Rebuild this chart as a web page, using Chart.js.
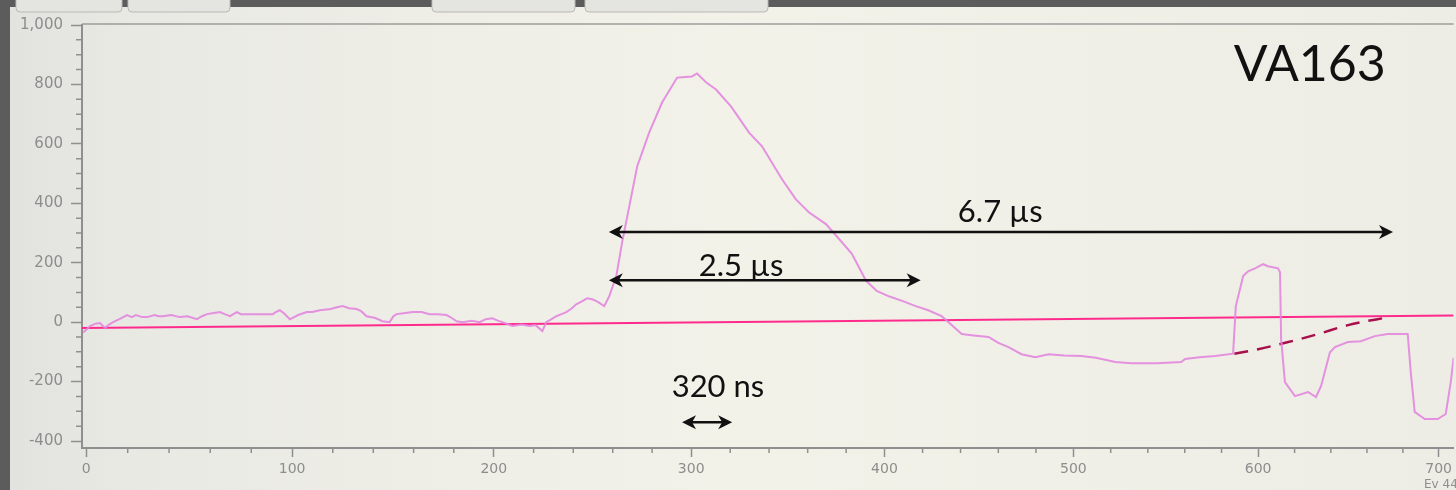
<!DOCTYPE html>
<html>
<head>
<meta charset="utf-8">
<title>VA163 pulse</title>
<script src="https://cdn.jsdelivr.net/npm/chart.js@4.4.1/dist/chart.umd.min.js"></script>
<style>
  html, body { margin: 0; padding: 0; background: #5c5c5c; overflow: hidden; }
  #wrap { width: 1456px; height: 490px; }
</style>
</head>
<body>
<div id="wrap"><canvas id="scope"></canvas></div>
<script>
// axis ticks
const xTicks = [0, 100, 200, 300, 400, 500, 600, 700];
const yTicks = [-400, -200, 0, 200, 400, 600, 800, 1000];

// sampled channel trace (sample index, ADC counts)
const traceX = [
  -1.4, 1.9, 4.5, 6.7, 9.1, 11, 13, 16, 19.7, 22,
  24, 27, 29.4, 33, 35, 37.1, 41, 45.3, 49, 53.6,
  56, 58.4, 61, 64.7, 67, 69.6, 73, 75, 77.9, 85,
  90.6, 92, 94, 96, 98.9, 101, 103, 107.2, 110, 113.6,
  119, 122, 124.9, 128, 131.8, 134, 136.7, 141, 144.6, 148.1,
  150, 151.6, 155, 159.5, 164, 167.9, 172, 176.4, 179, 181.4,
  184.4, 189, 192.9, 196, 199.3, 202, 204.3, 209.3, 214, 217.9,
  221, 224.4, 226.4, 229, 231.5, 234, 236.5, 239, 241.5, 244.6,
  247, 249.6, 252, 255.7, 258.2, 261.8, 264.8, 268.4, 272.4, 278.5,
  285.1, 292.8, 297, 300.4, 303, 307.6, 312.7, 320.4, 329.7, 336.4,
  346.7, 353.9, 360.6, 369.5, 377.8, 383, 390.3, 396, 402.3, 410,
  416.4, 423, 430, 433.7, 440.6, 447, 454.8, 460, 465.4, 472.3,
  479.7, 486.7, 495, 504.3, 512, 522.5, 531.1, 545, 558.1, 560.2,
  568, 576.5, 586.3, 587.8, 591.8, 594.5, 598.3, 602.7, 605.4, 610.9,
  612, 612.6, 614.7, 620.2, 627.4, 631.8, 634.6, 639.5, 642.3, 649.4,
  656.6, 664.4, 671.6, 682.7, 684.4, 686.6, 692.2, 699.5, 704, 706.8,
  708.4
];
const traceY = [
  -35, -13, -5, -3, -20, -8, 0, 10, 24, 17,
  24, 17, 17, 24, 20, 20, 24, 17, 20, 10,
  20, 27, 30, 34, 27, 20, 34, 27, 27, 27,
  27, 34, 40, 30, 10, 17, 24, 34, 34, 40,
  44, 50, 54, 47, 44, 37, 20, 14, 3, 0,
  20, 27, 30, 34, 34, 27, 27, 24, 14, 3,
  0, 5, 0, 10, 13, 5, 0, -13, -8, -13,
  -10, -30, 0, 10, 20, 27, 34, 45, 60, 71,
  80, 77, 70, 54, 87, 155, 270, 390, 524, 638,
  739, 823, 825, 827, 837, 807, 783, 726, 638, 592,
  481, 413, 370, 330, 269, 230, 140, 105, 87, 70,
  54, 40, 20, 0, -40, -45, -50, -70, -84, -108,
  -118, -108, -112, -114, -120, -134, -138, -138, -134, -124,
  -118, -114, -106, 54, 155, 171, 181, 195, 188, 181,
  168, -57, -202, -249, -235, -252, -215, -101, -84, -67,
  -64, -47, -40, -40, -168, -302, -326, -326, -309, -202,
  -120
];

// baseline drawn across the whole window
const baseX = [-2, 708.4];
const baseY = [-20, 22];

// expected return of the baseline after the pulse
const tailX = [587, 600, 616.5, 633, 649.5, 673];
const tailY = [-106, -91, -67, -40, -10, 18];

// width markers: [from, to, level]
const spans = [[258, 674.5, 303], [258, 419, 141], [295.3, 321, -337]];
// labels: [text, x, y, align]
const notes = [
  ['6.7 µs', 461, 336, 'center'],
  ['2.5 µs', 325.6, 155, 'center'],
  ['320 ns', 313.7, -252, 'center']
];
const tag = ['VA163', 670.5, 810];

// the screen is shot at an angle, so sample spacing shrinks towards the right
const bend = 0.078;
class SkewScale extends Chart.LinearScale {
  static id = 'skew';
  getPixelForValue(value) {
    const u = (value - this.min) / (this.max - this.min);
    return this.left + this.width * (u + bend * u * (1 - u));
  }
  getValueForPixel(pixel) {
    const f = (pixel - this.left) / this.width;
    const u = ((1 + bend) - Math.sqrt((1 + bend) ** 2 - 4 * bend * f)) / (2 * bend);
    return this.min + u * (this.max - this.min);
  }
}
Chart.register(SkewScale);

const backdrop = {
  id: 'backdrop',
  beforeDraw(chart) {
    const { ctx, width, height, chartArea: a } = chart;
    ctx.save();
    ctx.fillStyle = '#5c5c5c';
    ctx.fillRect(0, 0, width, height);
    const g = ctx.createLinearGradient(10, 0, width, 0);
    g.addColorStop(0, '#e2e2de');
    g.addColorStop(0.08, '#e9e9e4');
    g.addColorStop(0.5, '#f3f2e9');
    g.addColorStop(1, '#eeede5');
    ctx.fillStyle = g;
    ctx.fillRect(10, 7, width - 10, height - 7);
    // bottoms of the toolbar buttons
    ctx.fillStyle = '#e4e4e0';
    ctx.strokeStyle = '#b9b9b6';
    ctx.lineWidth = 1;
    [[16, 122], [128, 230], [432, 575], [585, 768]].forEach(([l, r]) => {
      ctx.beginPath();
      ctx.roundRect(l, -10, r - l, 22, 4);
      ctx.fill();
      ctx.stroke();
    });
    // plot frame top edge
    ctx.strokeStyle = '#9c9c9a';
    ctx.lineWidth = 1.5;
    ctx.beginPath();
    ctx.moveTo(a.left, a.top - 1);
    ctx.lineTo(a.right, a.top - 1);
    ctx.stroke();
    ctx.restore();
  }
};

const minorTicks = {
  id: 'minorTicks',
  afterDraw(chart) {
    const { ctx, scales: { x, y }, chartArea: a } = chart;
    ctx.save();
    ctx.strokeStyle = '#8f8f8f';
    ctx.lineWidth = 1.5;
    ctx.beginPath();
    for (let v = -400; v <= 1000; v += 50) {
      if (v % 200 === 0) continue;
      const py = y.getPixelForValue(v);
      ctx.moveTo(a.left - 6, py);
      ctx.lineTo(a.left, py);
    }
    for (let v = 0; v <= 700; v += 20) {
      if (v % 100 === 0) continue;
      const px = x.getPixelForValue(v);
      ctx.moveTo(px, a.bottom);
      ctx.lineTo(px, a.bottom + 5);
    }
    ctx.stroke();
    ctx.fillStyle = '#8f8f8f';
    ctx.font = '12px "DejaVu Sans"';
    ctx.fillText('Ev 44', 1424, 488);
    ctx.restore();
  }
};

function arrowHead(ctx, px, py, dir) {
  ctx.beginPath();
  ctx.moveTo(px, py);
  ctx.lineTo(px - dir * 14, py - 7);
  ctx.lineTo(px - dir * 10, py);
  ctx.lineTo(px - dir * 14, py + 7);
  ctx.closePath();
  ctx.fill();
}

const markers = {
  id: 'markers',
  afterDatasetsDraw(chart) {
    const { ctx, scales: { x, y } } = chart;
    ctx.save();
    ctx.strokeStyle = '#111';
    ctx.fillStyle = '#111';
    ctx.lineWidth = 2.5;
    spans.forEach(([from, to, level]) => {
      const x1 = x.getPixelForValue(from);
      const x2 = x.getPixelForValue(to);
      const py = y.getPixelForValue(level);
      ctx.beginPath();
      ctx.moveTo(x1 + 6, py);
      ctx.lineTo(x2 - 6, py);
      ctx.stroke();
      arrowHead(ctx, x1, py, -1);
      arrowHead(ctx, x2, py, 1);
    });
    ctx.font = '31px Lato';
    ctx.textBaseline = 'alphabetic';
    notes.forEach(([text, vx, vy, align]) => {
      ctx.textAlign = align;
      ctx.fillText(text, x.getPixelForValue(vx), y.getPixelForValue(vy));
    });
    ctx.font = '50px Lato';
    ctx.textAlign = 'right';
    ctx.fillText(tag[0], x.getPixelForValue(tag[1]), y.getPixelForValue(tag[2]));
    ctx.restore();
  }
};

const pts = (xs, ys) => xs.map((v, i) => ({ x: v, y: ys[i] }));

new Chart(document.getElementById('scope'), {
  type: 'line',
  data: {
    datasets: [
      {
        data: pts(traceX, traceY),
        borderColor: 'rgba(226, 134, 222, 0.9)',
        borderWidth: 2,
        pointRadius: 0,
        tension: 0
      },
      {
        data: pts(baseX, baseY),
        borderColor: '#ff2b8c',
        borderWidth: 2,
        pointRadius: 0
      },
      {
        data: pts(tailX, tailY),
        borderColor: '#a8104c',
        borderWidth: 2.5,
        borderDash: [14, 9],
        pointRadius: 0,
        cubicInterpolationMode: 'monotone'
      }
    ]
  },
  options: {
    responsive: true,
    maintainAspectRatio: false,
    animation: false,
    layout: { padding: { top: 25, left: 0, right: 0, bottom: 0 } },
    plugins: {
      legend: { display: false },
      tooltip: { enabled: false }
    },
    scales: {
      x: {
        type: 'skew',
        min: -2,
        max: 708.4,
        afterBuildTicks: s => { s.ticks = xTicks.map(v => ({ value: v })); },
        afterFit: s => { s.height = 42; },
        grid: { drawOnChartArea: false, tickLength: 9, tickColor: '#8f8f8f', tickWidth: 1.5 },
        border: { color: '#8f8f8f', width: 2 },
        ticks: {
          color: '#8d8d8d',
          font: { family: 'DejaVu Sans', size: 14 },
          padding: 4,
          maxRotation: 0,
          autoSkip: false,
          callback: v => String(v)
        }
      },
      y: {
        type: 'linear',
        min: -423.5,
        max: 1000,
        afterBuildTicks: s => { s.ticks = yTicks.map(v => ({ value: v })); },
        afterFit: s => { s.width = 82; },
        grid: { drawOnChartArea: false, tickLength: 11, tickColor: '#8f8f8f', tickWidth: 1.5 },
        border: { color: '#8f8f8f', width: 2 },
        ticks: {
          color: '#8d8d8d',
          font: { family: 'DejaVu Sans', size: 15 },
          padding: 8,
          autoSkip: false,
          callback: v => v.toLocaleString('en-US')
        }
      }
    }
  },
  plugins: [backdrop, minorTicks, markers]
});
</script>
</body>
</html>
